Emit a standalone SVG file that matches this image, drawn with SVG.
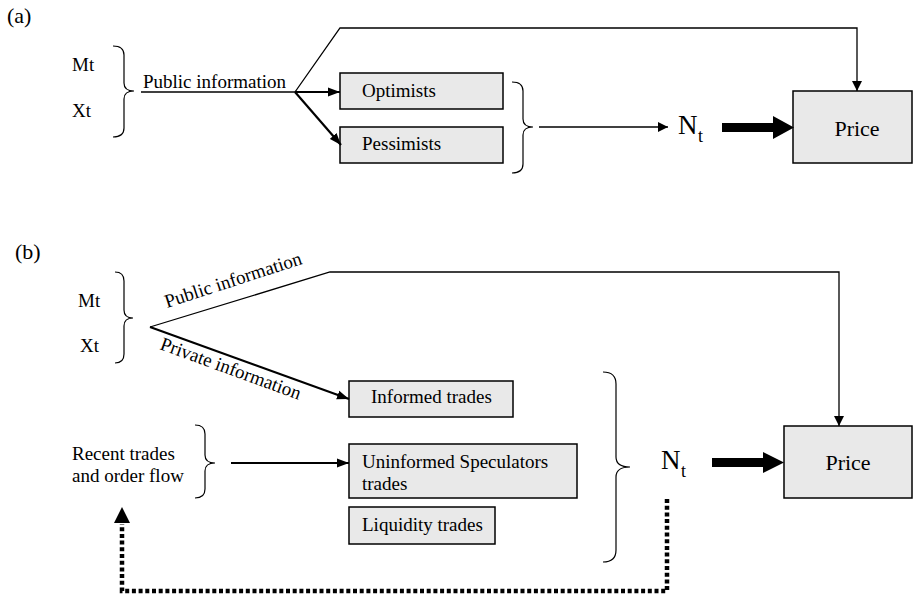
<svg xmlns="http://www.w3.org/2000/svg" width="913" height="596" viewBox="0 0 913 596" font-family="'Liberation Serif', 'Times New Roman', Times, serif">
<style>
  text { font-family: "Liberation Serif", "Times New Roman", Tinos, Times, "Noto Serif", "DejaVu Serif", serif; font-size: 19px; fill: #000; }
  .lbl { font-size: 22px; }
  .price { font-size: 22px; text-anchor: middle; }
  .N { font-size: 27px; }
  .sub { font-size: 18px; }
  .box { fill: #e9e9e9; stroke: #000; stroke-width: 1.5; }
  .thin { fill: none; stroke: #000; stroke-width: 1.3; }
  .med { fill: none; stroke: #000; stroke-width: 2.2; }
  .brace { fill: none; stroke: #000; stroke-width: 1.2; }
  .dot { fill: none; stroke: #000; stroke-width: 4.5; stroke-dasharray: 4 2.7; }
</style>
<defs>
  <marker id="ah" markerUnits="userSpaceOnUse" markerWidth="10" markerHeight="10" refX="10" refY="5" orient="auto">
    <path d="M0,0 L10,5 L0,10 z" fill="#000"/>
  </marker>
  <marker id="ahb" markerUnits="userSpaceOnUse" markerWidth="12" markerHeight="10" refX="12" refY="5" orient="auto">
    <path d="M0,0.5 L12,5 L0,9.5 z" fill="#000"/>
  </marker>
</defs>

<g id="panel-labels">
  <text class="lbl" x="7" y="23">(a)</text>
  <text class="lbl" x="15" y="259">(b)</text>
</g>

<!-- Panel (a) nodes -->
<g id="a-inputs">
  <text x="72" y="71">Mt</text>
  <text x="72" y="117">Xt</text>
  <path class="brace" d="M113,46 Q124,46 124,55 L124,83 Q124,91 134,91 Q124,91 124,99 L124,128 Q124,137 113,137"/>
</g>
<g id="a-optimists">
  <rect class="box" x="340" y="73" width="163" height="36"/>
  <text x="362" y="97">Optimists</text>
</g>
<g id="a-pessimists">
  <rect class="box" x="340" y="127" width="163" height="36"/>
  <text x="362" y="150">Pessimists</text>
</g>
<g id="a-group-brace">
  <path class="brace" d="M512,82 Q523,82 523,91 L523,119 Q523,127 533,127 Q523,127 523,135 L523,164 Q523,173 512,173"/>
</g>
<g id="a-nt">
  <text class="N" x="678" y="134">N</text>
  <text class="sub" x="698" y="142">t</text>
</g>
<g id="a-price">
  <rect class="box" x="793" y="91" width="119" height="72"/>
  <text class="price" x="857" y="136">Price</text>
</g>

<!-- Panel (b) nodes -->
<g id="b-inputs">
  <text x="78" y="307">Mt</text>
  <text x="80" y="352">Xt</text>
  <path class="brace" d="M115,272 Q124,272 124,281 L124,310 Q124,318 133,318 Q124,318 124,326 L124,354 Q124,363 115,363"/>
</g>
<g id="b-informed">
  <rect class="box" x="349" y="381" width="164" height="36"/>
  <text x="371" y="403">Informed trades</text>
</g>
<g id="b-recent">
  <text x="72" y="460">Recent trades</text>
  <text x="72" y="482">and order flow</text>
  <path class="brace" d="M195,425 Q205,425 205,434 L205,455 Q205,463 215,463 Q205,463 205,471 L205,489 Q205,498 195,498"/>
</g>
<g id="b-uninformed">
  <rect class="box" x="349" y="444" width="228" height="54"/>
  <text x="362" y="468">Uninformed Speculators</text>
  <text x="362" y="490">trades</text>
</g>
<g id="b-liquidity">
  <rect class="box" x="349" y="507" width="146" height="37"/>
  <text x="362" y="531">Liquidity trades</text>
</g>
<g id="b-group-brace">
  <path class="brace" d="M603,372 Q616,372 616,384 L616,457 Q616,467 630,467 Q616,467 616,477 L616,550 Q616,562 603,562"/>
</g>
<g id="b-nt">
  <text class="N" x="661" y="469">N</text>
  <text class="sub" x="681" y="477">t</text>
</g>
<g id="b-price">
  <rect class="box" x="784" y="426" width="128" height="72"/>
  <text class="price" x="848" y="470">Price</text>
</g>

<g id="connectors">
  <!-- (a) -->
  <text x="143" y="88">Public information</text>
  <line class="thin" x1="141" y1="92" x2="295" y2="92"/>
  <polyline class="thin" points="295,92 340,28 857,28 857,91" marker-end="url(#ah)"/>
  <line class="med" x1="295" y1="92" x2="340" y2="92" marker-end="url(#ahb)"/>
  <line class="med" x1="295" y1="92" x2="341" y2="145" marker-end="url(#ahb)"/>
  <line class="thin" x1="539" y1="127" x2="668" y2="127" marker-end="url(#ah)"/>
  <polygon points="722,123 773,123 773,116 794,127.5 773,139 773,132 722,132" fill="#000"/>

  <!-- (b) -->
  <polyline class="thin" points="150,327 330,272 839,272 839,426" marker-end="url(#ah)"/>
  <text x="167" y="308" transform="rotate(-18 167 308)">Public information</text>
  <line class="med" x1="150" y1="327" x2="349" y2="399" marker-end="url(#ahb)"/>
  <text x="159" y="349" transform="rotate(20 159 349)">Private information</text>
  <line class="med" x1="231" y1="463" x2="349" y2="463" marker-end="url(#ahb)"/>
  <polygon points="712,458 763,458 763,452 784,462.5 763,473 763,467 712,467" fill="#000"/>
  <polyline class="dot" points="667,499 667,591 122,591 122,524"/>
  <polygon points="114,523 130,523 122,507" fill="#000"/>
</g>
</svg>
